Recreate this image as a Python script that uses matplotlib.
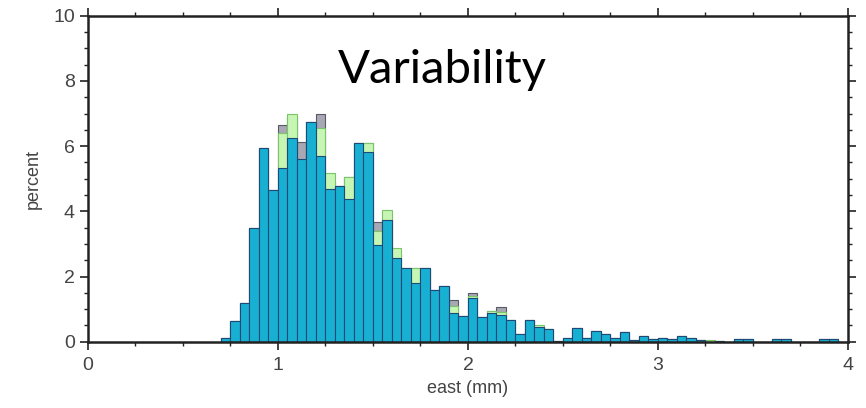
import numpy as np
import matplotlib.pyplot as plt
from matplotlib.ticker import MultipleLocator

# histogram of east (mm), bin width 0.05 starting at 0.70
bin_width = 0.05
bin_left = np.round(0.70 + bin_width * np.arange(66), 2)

# percent per bin, three overlapping runs
blue = [0.10, 0.64, 1.19, 3.50, 5.93, 4.65, 5.32, 6.24, 5.60, 6.75,
        5.70, 4.67, 4.78, 4.37, 6.10, 5.83, 2.97, 3.73, 2.56, 2.25,
        1.79, 2.25, 1.59, 1.71, 0.87, 0.79, 1.33, 0.77, 0.87, 0.82,
        0.67, 0.24, 0.67, 0.46, 0.39, 0.02, 0.10, 0.43, 0.10, 0.34,
        0.24, 0.10, 0.30, 0.05, 0.17, 0.07, 0.10, 0.07, 0.17, 0.12,
        0.05, 0.00, 0.03, 0.00, 0.08, 0.08, 0.00, 0.00, 0.08, 0.08,
        0.00, 0.00, 0.00, 0.08, 0.08, 0.00]
gray = [0.12, 0.64, 1.19, 3.50, 5.93, 4.65, 6.65, 6.90, 6.13, 6.75,
        6.98, 4.90, 4.78, 5.06, 6.10, 6.10, 3.68, 3.80, 2.70, 2.25,
        2.25, 2.25, 1.59, 1.71, 1.28, 0.79, 1.50, 0.77, 0.94, 1.07,
        0.67, 0.24, 0.67, 0.46, 0.39, 0.02, 0.10, 0.43, 0.10, 0.34,
        0.24, 0.10, 0.30, 0.05, 0.17, 0.07, 0.10, 0.07, 0.17, 0.12,
        0.05, 0.00, 0.03, 0.00, 0.08, 0.08, 0.00, 0.00, 0.08, 0.08,
        0.00, 0.00, 0.00, 0.08, 0.08, 0.00]
green = [0.10, 0.64, 1.19, 3.50, 5.93, 4.65, 6.40, 6.98, 5.60, 6.75,
         6.55, 5.18, 4.78, 5.06, 6.10, 6.10, 3.40, 4.04, 2.86, 2.25,
         2.25, 2.25, 1.59, 1.71, 1.10, 0.79, 1.40, 0.77, 0.94, 0.90,
         0.67, 0.24, 0.67, 0.50, 0.39, 0.02, 0.10, 0.43, 0.10, 0.34,
         0.24, 0.10, 0.30, 0.05, 0.17, 0.07, 0.10, 0.07, 0.17, 0.12,
         0.05, 0.05, 0.03, 0.00, 0.08, 0.08, 0.00, 0.00, 0.08, 0.08,
         0.00, 0.00, 0.00, 0.08, 0.08, 0.00]

plt.rcParams['font.family'] = ['Liberation Sans Narrow', 'Liberation Sans']

fig = plt.figure(figsize=(8.66, 4.08), dpi=100)
ax = fig.add_axes([0.1016, 0.1625, 0.8776, 0.799])

ax.bar(bin_left, gray, width=bin_width, align='edge',
       color='#a8a8b4', edgecolor='#5a5a66', linewidth=0.8)
ax.bar(bin_left, green, width=bin_width, align='edge',
       color='#c6f5b4', edgecolor='#7cc46a', linewidth=0.8)
ax.bar(bin_left, blue, width=bin_width, align='edge',
       color='#18b0d2', edgecolor='#1f4a78', linewidth=0.8)

ax.set_xlim(0, 4)
ax.set_ylim(0, 10)
ax.xaxis.set_major_locator(MultipleLocator(1))
ax.xaxis.set_minor_locator(MultipleLocator(0.25))
ax.yaxis.set_major_locator(MultipleLocator(2))
ax.yaxis.set_minor_locator(MultipleLocator(0.5))
ax.tick_params(which='both', direction='out', top=True, right=True,
               colors='#222222', labelcolor='#444444', labelsize=14)
ax.tick_params(which='major', length=6, width=1.2)
ax.tick_params(which='minor', length=3, width=1.0)
ax.tick_params(axis='x', pad=5)
for s in ax.spines.values():
    s.set_linewidth(1.8)
    s.set_color('#222222')

ax.set_xlabel('east (mm)', fontsize=13, color='#444444', labelpad=4)
ax.set_ylabel('percent', fontsize=13, color='#444444', labelpad=8)

fig.text(0.511, 0.797, 'Variability', fontsize=34, family='Lato',
         ha='center', va='baseline', color='black')

fig.savefig('out.png', dpi=100)
